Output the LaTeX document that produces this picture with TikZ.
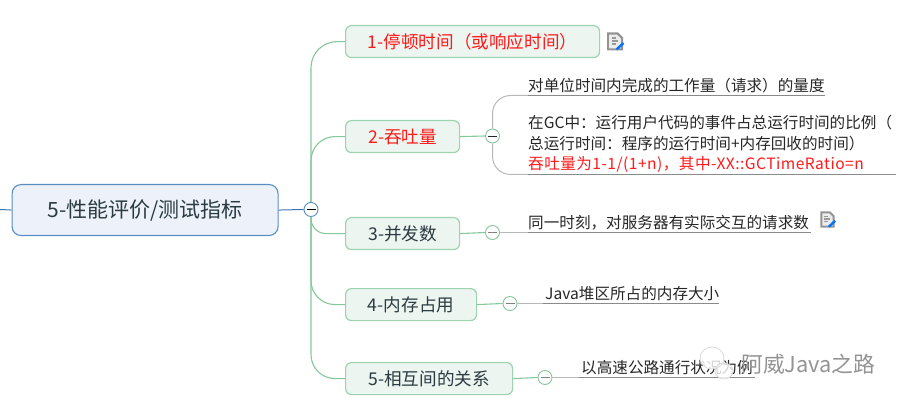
\documentclass[tikz,border=0pt]{standalone}
\usepackage{fontspec}
\setmainfont{Noto Sans CJK SC}
\newfontfamily\spacedfont[LetterSpace=3]{Noto Sans CJK SC}
\usetikzlibrary{calc}
\definecolor{rootfill}{HTML}{EDF2FA}
\definecolor{rootline}{HTML}{5A8FC4}
\definecolor{rootlink}{HTML}{3D74B0}
\definecolor{topicfill}{HTML}{EDF5F0}
\definecolor{topicline}{HTML}{9DD3AE}
\definecolor{greenlink}{HTML}{86C79B}
\definecolor{inktext}{HTML}{2A3A40}
\definecolor{leafline}{HTML}{8A8A8A}
\definecolor{leaflight}{HTML}{B8B8B8}
\definecolor{redtext}{HTML}{FF1A1A}
\tikzset{
  x=1pt,y=-1pt,
  rootbox/.style={draw=rootline,fill=rootfill,line width=1.1pt,rounded corners=9pt,inner sep=0,anchor=north west,text=inktext,font=\fontsize{21}{24}\selectfont},
  topicbox/.style={draw=topicline,fill=topicfill,line width=1.2pt,rounded corners=6pt,inner sep=0,anchor=north west,text=inktext,font=\fontsize{17.6}{20}\selectfont},
  redtopic/.style={topicbox,text=redtext},
  foldmark/.style={circle,draw=greenlink,fill=white,line width=.9pt,minimum size=14pt,inner sep=0},
  rootfold/.style={foldmark,draw=rootline},
  leaftext/.style={anchor=south west,inner sep=0,text=black!85,font=\fontsize{15.6}{20.7}\selectfont,align=left},
  green link/.style={draw=greenlink,line width=1.1pt},
  leaf link/.style={draw=leaflight,line width=1pt},
  leaf rule/.style={draw=leafline,line width=.9pt},
  note/.pic={
    \fill[gray!85] (-8,-9) -- (3,-9) -- (8,-4) -- (8,9) -- (-8,9) -- cycle;
    \fill[white!85!gray] (-5.8,-6.8) -- (2,-6.8) -- (5.8,-3) -- (5.8,6.8) -- (-5.8,6.8) -- cycle;
    \draw[gray!80,line width=1.2pt] (-3.5,-3.5) -- (1,-3.5) (-3.5,-.5) -- (3,-.5) (-3.5,2.5) -- (1,2.5);
    \draw[blue!55!cyan,line width=2.4pt] (1.5,8) -- (8.5,1.5);
  }
}
\begin{document}
\begin{tikzpicture}
\useasboundingbox (0,0) rectangle (904,403);
% nodes
\node[rootbox,minimum width=266pt,minimum height=51pt] (root) at (11.5,184) {5-性能评价/测试指标};
\node[redtopic,minimum width=254pt,minimum height=32pt] (t1) at (345,25) {1-停顿时间（或响应时间）};
\node[redtopic,minimum width=114pt,minimum height=32pt] (t2) at (345,120) {2-吞吐量};
\node[topicbox,minimum width=114pt,minimum height=32pt] (t3) at (345,217) {3-并发数};
\node[topicbox,minimum width=131pt,minimum height=32pt] (t4) at (345,288) {4-内存占用};
\node[topicbox,minimum width=167pt,minimum height=32pt] (t5) at (345,362) {5-相互间的关系};
\coordinate (rootin) at (0,209.5);
\node[rootfold] (hub) at (311,209.5) {};
\node[foldmark] (f2) at (492.5,136) {};
\node[foldmark] (f3) at (492.5,232.5) {};
\node[foldmark] (f4) at (510,303.5) {};
\node[foldmark] (f5) at (545,377.5) {};
% leaf anchors
\coordinate (a1) at (528,95.5);
\coordinate (a1e) at (825,95.5);
\coordinate (a2) at (528,174.5);
\coordinate (a2e) at (896,174.5);
\coordinate (a3) at (528,232.5);
\coordinate (a3e) at (811,232.5);
\coordinate (a4) at (543,303.5);
\coordinate (a4e) at (719,303.5);
\coordinate (a5) at (579,377.5);
\coordinate (a5e) at (755,377.5);
% root links
\draw[rootlink,line width=1pt] (rootin) -- (root.west);
\draw[rootlink,line width=1pt] (root.east) -- (hub.west);
% trunk links
\draw[green link,rounded corners=26pt] (hub.north) |- (t1.west);
\draw[green link,rounded corners=24pt] (hub.north) |- (t2.west);
\draw[green link,rounded corners=15pt] (hub.south) |- (t3.west);
\draw[green link,rounded corners=24pt] (hub.south) |- (t4.west);
\draw[green link,rounded corners=24pt] (hub.south) |- (t5.west);
% topic to fold
\draw[green link] (t2.east) -- (f2.west);
\draw[green link] (t3.east) -- (f3.west);
\draw[green link] (t4.east) -- (f4.west);
\draw[green link] (t5.east) -- (f5.west);
% leaf links
\draw[leaf link,rounded corners=18pt] (f2.north) |- (a1);
\draw[leaf link,rounded corners=18pt] (f2.south) |- (a2);
\draw[leaf link] (f3.east) -- (a3);
\draw[leaf link] (f4.east) -- (a4);
\draw[leaf link] (f5.east) -- (a5);
\draw[leaf rule] (a1) -- (a1e);
\draw[leaf rule] (a2) -- (a2e);
\draw[leaf rule] (a3) -- (a3e);
\draw[leaf rule] (a4) -- (a4e);
\draw[leaf rule] (a5) -- (a5e);
% fold marks' minus
\draw[black,line width=1.2pt] (306.5,209.5) -- (315.5,209.5);
\draw[black!85,line width=.9pt] (488,136) -- (497,136);
\draw[gray,line width=1.6pt] (488,232.5) -- (497,232.5);
\draw[gray,line width=1.6pt] (505.5,303.5) -- (514.5,303.5);
\draw[gray,line width=1.6pt] (540.5,377.5) -- (549.5,377.5);
% leaf texts
\node[leaftext] (l1) at (528,93) {对单位时间内完成的工作量（请求）的量度};
\node[leaftext,anchor=north west] (l2) at (528,115) {在GC中：运行用户代码的事件占总运行时间的比例（\\总运行时间：程序的运行时间+内存回收的时间）\\\textcolor{redtext}{\spacedfont 吞吐量为1-1/(1+n)，其中-XX::GCTimeRatio=n}};
\node[leaftext] (l3) at (528,230) {同一时刻，对服务器有实际交互的请求数};
\node[leaftext] (l4) at (545,301) {Java堆区所占的内存大小};
\node[leaftext] (l5) at (581,375) {以高速公路通行状况为例};
% note icons
\pic at (615,41.5) {note};
\pic[scale=.9] at (827.5,219.5) {note};
% watermark
\fill[white,opacity=.8] (712,358) ellipse (12 and 11);
\fill[white,opacity=.8] (724,371) ellipse (9 and 8);
\draw[white!70!gray,line width=.8pt] (712,358) ellipse (12 and 11);
\draw[white!70!gray,line width=.8pt] (724,371) ellipse (9 and 8);
\node[anchor=west,inner sep=0,text=gray!85,font=\fontsize{21.8}{24}\selectfont] (wm) at (741,364) {阿威Java之路};
\end{tikzpicture}
\end{document}
